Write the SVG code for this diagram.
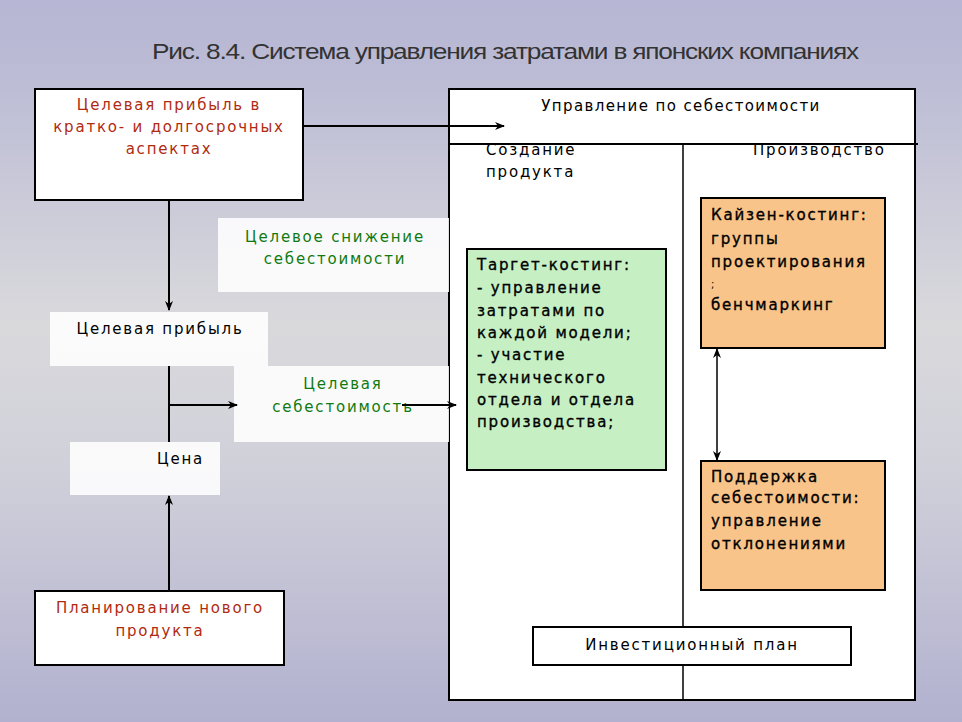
<svg xmlns="http://www.w3.org/2000/svg" width="962" height="722" viewBox="0 0 962 722">
<defs>
<linearGradient id="bg" x1="0" y1="0" x2="0" y2="1">
<stop offset="0" stop-color="#b6b5d3"/>
<stop offset="0.12" stop-color="#bdbdd6"/>
<stop offset="0.45" stop-color="#d9d9dc"/>
<stop offset="0.65" stop-color="#d0d0da"/>
<stop offset="1" stop-color="#b2b1cf"/>
</linearGradient>
<marker id="ah" markerWidth="10" markerHeight="8" refX="9" refY="4" orient="auto" markerUnits="userSpaceOnUse">
<path d="M0,0 L10,4 L0,8 L3,4 Z" fill="#000"/>
</marker>
<marker id="ahs" markerWidth="10" markerHeight="8" refX="1" refY="4" orient="auto" markerUnits="userSpaceOnUse">
<path d="M10,0 L0,4 L10,8 L7,4 Z" fill="#000"/>
</marker>
</defs>
<style>
text{font-family:"DejaVu Sans","Noto Sans",sans-serif;font-size:15px;letter-spacing:1.8px;fill:#000}
.red{fill:#b02a10}
.green{fill:#107a10}
.k{stroke:#000;stroke-width:0.35}
.bx{fill:#fff;stroke:#000;stroke-width:2}
.soft{fill:#fff;opacity:0.88}
.ln{stroke:#000;stroke-width:2;fill:none}
.thin{stroke:#000;stroke-width:1.5;fill:none}
.c{text-anchor:middle}
.title{font-family:"Liberation Sans Narrow","Liberation Sans",sans-serif;font-size:22px;letter-spacing:-1px;fill:#333}
</style>
<rect width="962" height="722" fill="url(#bg)"/>
<text class="title" x="152" y="59" textLength="706" lengthAdjust="spacingAndGlyphs">Рис. 8.4. Система управления затратами в японских компаниях</text>

<g id="cost-mgmt">
<rect class="bx" x="449" y="89" width="466" height="611"/>
<line class="ln" x1="449" y1="144" x2="918" y2="144"/>
<line class="thin" x1="683" y1="144" x2="683" y2="627"/>
<line class="thin" x1="683" y1="665" x2="683" y2="700"/>
<text class="c" x="681" y="111" style="letter-spacing:1.4px">Управление по себестоимости</text>
<text x="486" y="155">Создание</text>
<text x="486" y="177">продукта</text>
<text x="753" y="155">Производство</text>
</g>

<g id="soft-areas">
<rect class="soft" x="218" y="218" width="231" height="74"/>
<rect class="soft" x="50" y="312" width="218" height="54"/>
<rect class="soft" x="234" y="366" width="215" height="76"/>
<rect class="soft" x="70" y="442" width="150" height="53"/>
</g>

<g id="target-profit-long">
<rect class="bx" x="35" y="89" width="268" height="111"/>
<text class="red c" x="169" y="110">Целевая прибыль в</text>
<text class="red c" x="169" y="132">кратко- и долгосрочных</text>
<text class="red c" x="169" y="154">аспектах</text>
</g>

<g id="target-cost-reduction">
<text class="green c" x="335" y="242">Целевое снижение</text>
<text class="green c" x="335" y="264">себестоимости</text>
</g>

<g id="target-profit">
<text class="c" x="160" y="334">Целевая прибыль</text>
</g>

<g id="target-cost">
<text class="green c" x="343" y="389">Целевая</text>
<text class="green c" x="343" y="412">себестоимость</text>
</g>

<g id="price">
<text x="157" y="464">Цена</text>
</g>

<g id="new-product">
<rect class="bx" x="35" y="591" width="249" height="74"/>
<text class="red c" x="160" y="613">Планирование нового</text>
<text class="red c" x="160" y="636">продукта</text>
</g>

<g id="target-costing">
<rect x="467" y="249" width="199" height="221" fill="#c6f0c4" stroke="#000" stroke-width="2"/>
<text class="k" x="477" y="270">Таргет-костинг:</text>
<text class="k" x="477" y="293">- управление</text>
<text class="k" x="477" y="316">затратами по</text>
<text class="k" x="477" y="338">каждой модели;</text>
<text class="k" x="477" y="360">- участие</text>
<text class="k" x="477" y="383">технического</text>
<text class="k" x="477" y="405">отдела и отдела</text>
<text class="k" x="477" y="427">производства;</text>
</g>

<g id="kaizen">
<rect x="701" y="198" width="184" height="150" fill="#f9c48a" stroke="#000" stroke-width="2"/>
<text class="k" x="711" y="220">Кайзен-костинг:</text>
<text class="k" x="711" y="244">группы</text>
<text class="k" x="711" y="267">проектирования</text>
<text x="711" y="288" style="font-size:10px">;</text>
<text class="k" x="711" y="310">бенчмаркинг</text>
</g>

<g id="cost-maintenance">
<rect x="701" y="461" width="184" height="129" fill="#f9c48a" stroke="#000" stroke-width="2"/>
<text class="k" x="711" y="482">Поддержка</text>
<text class="k" x="711" y="503">себестоимости:</text>
<text class="k" x="711" y="526">управление</text>
<text class="k" x="711" y="549">отклонениями</text>
</g>

<g id="invest-plan">
<rect class="bx" x="533" y="627" width="318" height="38"/>
<text class="c" x="692" y="650">Инвестиционный план</text>
</g>

<g id="connectors">
<line class="ln" x1="303" y1="126" x2="504" y2="126" marker-end="url(#ah)"/>
<line class="ln" x1="169" y1="200" x2="169" y2="310" marker-end="url(#ah)"/>
<line class="ln" x1="169" y1="366" x2="169" y2="442"/>
<line class="ln" x1="169" y1="405" x2="237" y2="405" marker-end="url(#ah)"/>
<line class="ln" x1="402" y1="405" x2="456" y2="405" marker-end="url(#ah)"/>
<line class="ln" x1="169" y1="590" x2="169" y2="496" marker-end="url(#ah)"/>
<line class="thin" x1="717" y1="349" x2="717" y2="460" marker-start="url(#ahs)" marker-end="url(#ah)"/>
</g>
</svg>
